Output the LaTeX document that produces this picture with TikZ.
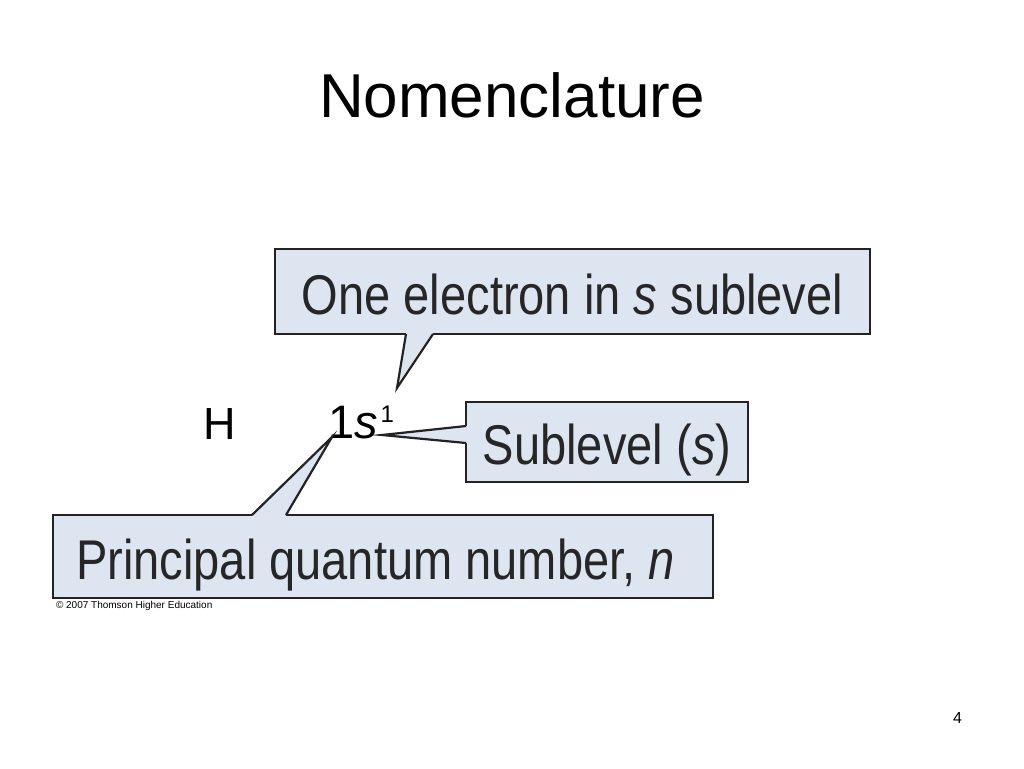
\documentclass[tikz,border=0pt]{standalone}
\usepackage{fontspec}
\setmainfont{Liberation Sans}
\newfontfamily\boxfont[FakeStretch=0.84]{Liberation Sans}
\usetikzlibrary{positioning}
\definecolor{boxblue}{RGB}{221,229,241}
\definecolor{edge}{RGB}{35,35,35}

\begin{document}
\begin{tikzpicture}[x=1pt, y=-1pt, line width=2.2pt]
        \tikzstyle{every node}=[inner sep=0pt, outer sep=0pt]
        \tikzstyle{callout}=[draw=edge, fill=boxblue, text=black!85, font=\boxfont\fontsize{56}{60}\selectfont, text height=45pt, text depth=0pt]
        \fill[white] (0,0) rectangle (1024,768);
        \useasboundingbox (0,0) rectangle (1024,768);
        \node (title) [anchor=base, font=\fontsize{62}{66}\selectfont] at (512,117) {Nomenclature};
        % the three labelled boxes
        \node (one) [callout, minimum width=595pt, minimum height=85pt] at (572.5,291.5) {One electron in \textit{s} sublevel};
        \node (sub) [callout, minimum width=282pt, minimum height=80pt] at (607,442) {Sublevel (\textit{s})};
        \node (prin) [callout, minimum width=660pt, minimum height=83pt] at (383,556.5) {Principal quantum number, \textit{n}\hspace*{15pt}};
        \node (H) [anchor=base west, font=\fontsize{45}{48}\selectfont] at (203,439) {H};
        \node (orb) [anchor=base west, font=\fontsize{47}{50}\selectfont] at (328,438) {1\textit{s}\kern3pt\raisebox{16pt}{\fontsize{24}{26}\selectfont 1}};
        \node (copy) [below right=3pt and 3pt of prin.south west, font=\fontsize{10}{12}\selectfont] {\copyright{} 2007 Thomson Higher Education};
        \node (page) [anchor=base, font=\fontsize{16}{18}\selectfont] at (957.5,723) {4};
        % tails of the boxes
        \coordinate (tipA) at (397,388);
        \coordinate (tipB) at (382,435);
        \coordinate (tipC) at (332,437);
        \coordinate (a1) at ([xshift=131pt]one.south west);
        \coordinate (a2) at ([xshift=158pt]one.south west);
        \coordinate (b1) at ([yshift=-24pt]sub.north west);
        \coordinate (b2) at ([yshift=-41pt]sub.north west);
        \coordinate (c1) at ([xshift=199pt]prin.north west);
        \coordinate (c2) at ([xshift=233pt]prin.north west);
        \foreach \u/\v/\t/\s in {a1/a2/tipA/{(0,-3)}, b1/b2/tipB/{(3,0)}, c1/c2/tipC/{(0,3)}} {
            \fill[boxblue] (\u) -- (\t) -- (\v) -- ([shift={\s}]\v) -- ([shift={\s}]\u) -- cycle;
            \draw[edge] (\u) -- (\t) -- (\v);
        }
    \end{tikzpicture}
\end{document}
